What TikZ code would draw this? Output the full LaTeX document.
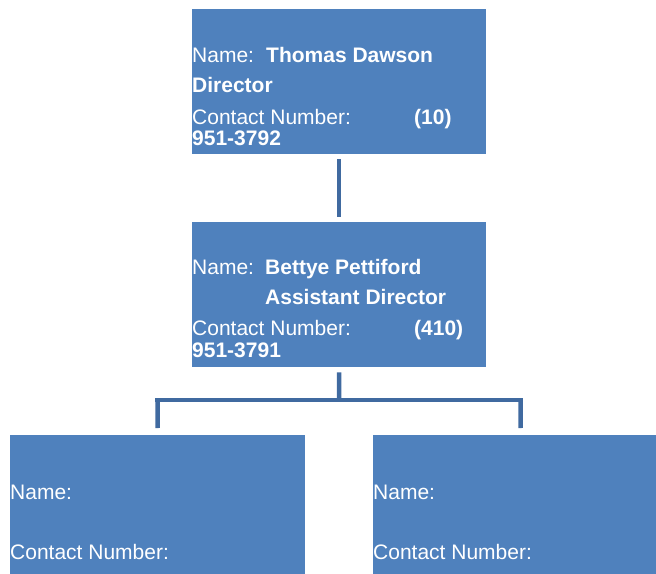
\documentclass[tikz,border=0pt]{standalone}
\usepackage{fontspec}
\setmainfont{Liberation Sans}
\definecolor{boxblue}{RGB}{79,129,189}
\definecolor{linkblue}{RGB}{64,106,160}
\begin{document}
\begin{tikzpicture}[x=1pt,y=-1pt,
  orgbox/.style={fill=boxblue, draw=none, minimum width=294pt, minimum height=145pt, anchor=north west, inner sep=0pt},
  txt/.style={text=white, inner sep=0pt, anchor=base west, font=\fontsize{21}{25}\selectfont},
  btxt/.style={txt, font=\fontsize{21}{25}\selectfont\bfseries},
  conn/.style={draw=linkblue, line width=4.5pt}]
\useasboundingbox (0,0) rectangle (656,573);
\clip (0,0) rectangle (656,573);
% boxes
\node[orgbox] (top) at (192,9) {};
\node[orgbox] (mid) at (192,222) {};
\node[orgbox, minimum width=295pt] (left) at (10,435) {};
\node[orgbox, minimum width=295pt] (right) at (373,435) {};
% connectors
\coordinate (hub) at (339,400);
\coordinate (hl) at (157.5,400);
\coordinate (hr) at (520.5,400);
\draw[conn] ([yshift=-5pt]top.south) -- ([yshift=5pt]mid.north);
\draw[conn] ([yshift=-5pt]mid.south) -- (hub);
\draw[conn] ([xshift=-2.25pt]hl) -- ([xshift=2.25pt]hr);
\draw[conn] (hl) -- ([yshift=7pt]left.north);
\draw[conn] (hr) -- ([yshift=7pt]right.north);
% top text
\node[txt] (t1) at (192,62) {Name:};
\node[btxt] (t2) at (266,62) {Thomas Dawson};
\node[btxt] (t3) at (192,92) {Director};
\node[txt] (t4) at (192,124) {Contact Number:};
\node[btxt] (t5) at (414,124) {(10)};
\node[btxt] (t6) at (192,145) {951-3792};
% mid text
\node[txt] (m1) at (192,274) {Name:};
\node[btxt] (m2) at (265,274) {Bettye Pettiford};
\node[btxt] (m3) at (265,304) {Assistant Director};
\node[txt] (m4) at (192,335) {Contact Number:};
\node[btxt] (m5) at (414,335) {(410)};
\node[btxt] (m6) at (192,357) {951-3791};
% bottom text
\node[txt] (l1) at (10,499) {Name:};
\node[txt] (l2) at (10,559) {Contact Number:};
\node[txt] (r1) at (373,499) {Name:};
\node[txt] (r2) at (373,559) {Contact Number:};
\end{tikzpicture}
\end{document}
